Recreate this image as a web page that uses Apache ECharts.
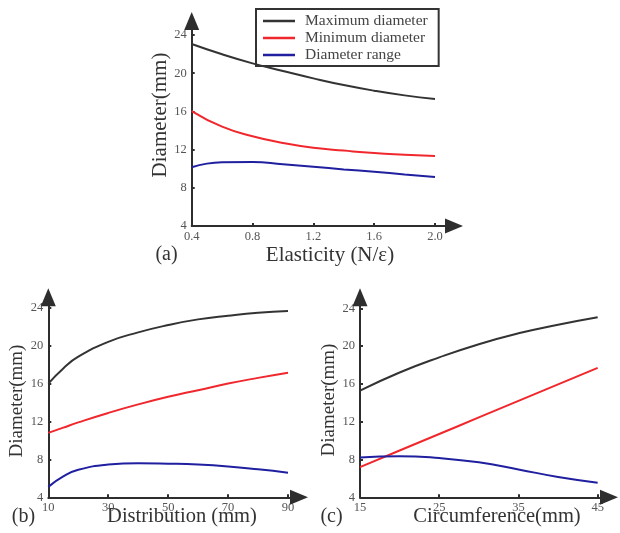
<!DOCTYPE html>
<html>
<head>
<meta charset="utf-8">
<script src="https://cdn.jsdelivr.net/npm/echarts@6/dist/echarts.min.js"></script>
<style>html,body{margin:0;padding:0;background:#fff}#c{width:620px;height:533px}</style>
</head>
<body>
<div id="c"></div>
<script>
// ---- data ----
const seriesNames = ['Maximum diameter', 'Minimum diameter', 'Diameter range'];

const elasticityX = [0.4, 0.6, 0.8, 1.0, 1.2, 1.4, 1.6, 1.8, 2.0];
const elasticityMax = [23.06, 21.98, 21.03, 20.23, 19.46, 18.76, 18.17, 17.68, 17.3];
const elasticityMin = [16.04, 14.4, 13.4, 12.7, 12.2, 11.9, 11.64, 11.47, 11.33];
const elasticityRange = [10.15, 10.67, 10.7, 10.46, 10.2, 9.93, 9.68, 9.4, 9.13];

const distributionX = [10, 15, 20, 30, 40, 50, 60, 70, 80, 90];
const distributionMax = [16.0, 17.6, 18.83, 20.4, 21.4, 22.17, 22.77, 23.16, 23.47, 23.65];
const distributionMin = [10.8, 11.35, 11.9, 12.9, 13.8, 14.6, 15.3, 16.0, 16.6, 17.15];
const distributionRange = [5.1, 6.2, 6.9, 7.45, 7.6, 7.55, 7.45, 7.25, 6.95, 6.6];

const circumferenceX = [15, 20, 25, 30, 35, 40, 45];
const circumferenceMax = [15.28, 17.2, 18.8, 20.2, 21.35, 22.26, 23.05];
const circumferenceMin = [7.2, 8.95, 10.7, 12.45, 14.2, 15.95, 17.7];
const circumferenceRange = [8.2, 8.35, 8.15, 7.7, 6.95, 6.15, 5.55];

const yTickLabels = [4, 8, 12, 16, 20, 24];
const aTickLabels = [0.4, 0.8, 1.2, 1.6, 2.0];
const bTickLabels = [10, 30, 50, 70, 90];
const cTickLabels = [15, 25, 35, 45];

// ---- styles ----
const colors = ['#333333', '#f0282d', '#1f1fa0'];
const axisColor = '#2e2e2e';
const labelColor = '#555';
const serif = '"Liberation Serif", "DejaVu Serif", serif';

function pairs(xs, ys) { return xs.map((x, i) => [x, ys[i]]); }

function xAxisDef(gi, min, max, ticks, dec) {
  return {
    type: 'value', gridIndex: gi, min: min, max: max,
    splitLine: { show: false },
    axisLine: { show: true, lineStyle: { color: axisColor, width: 2 }, symbol: ['none', 'triangle'], symbolSize: [15, 18] },
    axisTick: { show: true, inside: true, length: 3, lineStyle: { color: axisColor, width: 2 }, customValues: ticks.slice(1) },
    axisLabel: { color: labelColor, fontFamily: serif, fontSize: 12.5, margin: 4, customValues: ticks,
      formatter: v => dec ? v.toFixed(1) : String(v) }
  };
}
function yAxisDef(gi, max) {
  return {
    type: 'value', gridIndex: gi, min: 4, max: max,
    splitLine: { show: false },
    axisLine: { show: true, lineStyle: { color: axisColor, width: 2 }, symbol: ['none', 'triangle'], symbolSize: [15, 18] },
    axisTick: { show: true, inside: true, length: 3, lineStyle: { color: axisColor, width: 2 }, customValues: yTickLabels.slice(1) },
    axisLabel: { color: labelColor, fontFamily: serif, fontSize: 12.5, margin: 5, customValues: yTickLabels }
  };
}
function lineSeries(gi, name, data, color) {
  return {
    type: 'line', name: name, xAxisIndex: gi, yAxisIndex: gi, data: data,
    smooth: 0.5, showSymbol: false, symbol: 'none',
    lineStyle: { color: color, width: 2 }, itemStyle: { color: color }
  };
}
function txt(x, y, s, size, rot) {
  return { type: 'text', x: x, y: y, rotation: rot || 0,
    style: { text: s, fill: '#333', font: size + 'px ' + serif, textAlign: 'center', textVerticalAlign: 'middle' } };
}

const chart = echarts.init(document.getElementById('c'), null, { renderer: 'canvas' });
chart.setOption({
  backgroundColor: '#fff',
  animation: false,
  legend: {
    data: seriesNames, orient: 'vertical', left: 256, top: 9,
    padding: [4, 11, 3, 7], itemGap: 1, itemWidth: 32, itemHeight: 2.5, icon: 'rect',
    borderColor: '#333', borderWidth: 2,
    textStyle: { fontFamily: serif, fontSize: 15.5, color: '#444', padding: [0, 0, 0, 5] }
  },
  grid: [
    { left: 191.7, top: 21, width: 262.3, height: 205 },
    { left: 48.3, top: 297.3, width: 250.7, height: 200 },
    { left: 360, top: 297.3, width: 249, height: 200 }
  ],
  xAxis: [
    xAxisDef(0, 0.4, 2.125, aTickLabels, true),
    xAxisDef(1, 10, 93.67, bTickLabels, false),
    xAxisDef(2, 15, 46.43, cTickLabels, false)
  ],
  yAxis: [yAxisDef(0, 25.47), yAxisDef(1, 25.1), yAxisDef(2, 25.16)],
  series: [
    lineSeries(0, seriesNames[0], pairs(elasticityX, elasticityMax), colors[0]),
    lineSeries(0, seriesNames[1], pairs(elasticityX, elasticityMin), colors[1]),
    lineSeries(0, seriesNames[2], pairs(elasticityX, elasticityRange), colors[2]),
    lineSeries(1, seriesNames[0], pairs(distributionX, distributionMax), colors[0]),
    lineSeries(1, seriesNames[1], pairs(distributionX, distributionMin), colors[1]),
    lineSeries(1, seriesNames[2], pairs(distributionX, distributionRange), colors[2]),
    lineSeries(2, seriesNames[0], pairs(circumferenceX, circumferenceMax), colors[0]),
    lineSeries(2, seriesNames[1], pairs(circumferenceX, circumferenceMin), colors[1]),
    lineSeries(2, seriesNames[2], pairs(circumferenceX, circumferenceRange), colors[2])
  ],
  graphic: [
    txt(160, 115, 'Diameter(mm)', 21, Math.PI / 2),
    txt(330, 255, 'Elasticity (N/ε)', 21),
    txt(166.5, 255, '(a)', 20),
    txt(17.5, 401, 'Diameter(mm)', 19, Math.PI / 2),
    txt(182, 517, 'Distribution (mm)', 20.5),
    txt(23.5, 517, '(b)', 20),
    txt(329, 400, 'Diameter(mm)', 19, Math.PI / 2),
    txt(497, 517, 'Circumference(mm)', 20.5),
    txt(331.5, 517, '(c)', 20)
  ]
});
</script>
</body>
</html>
